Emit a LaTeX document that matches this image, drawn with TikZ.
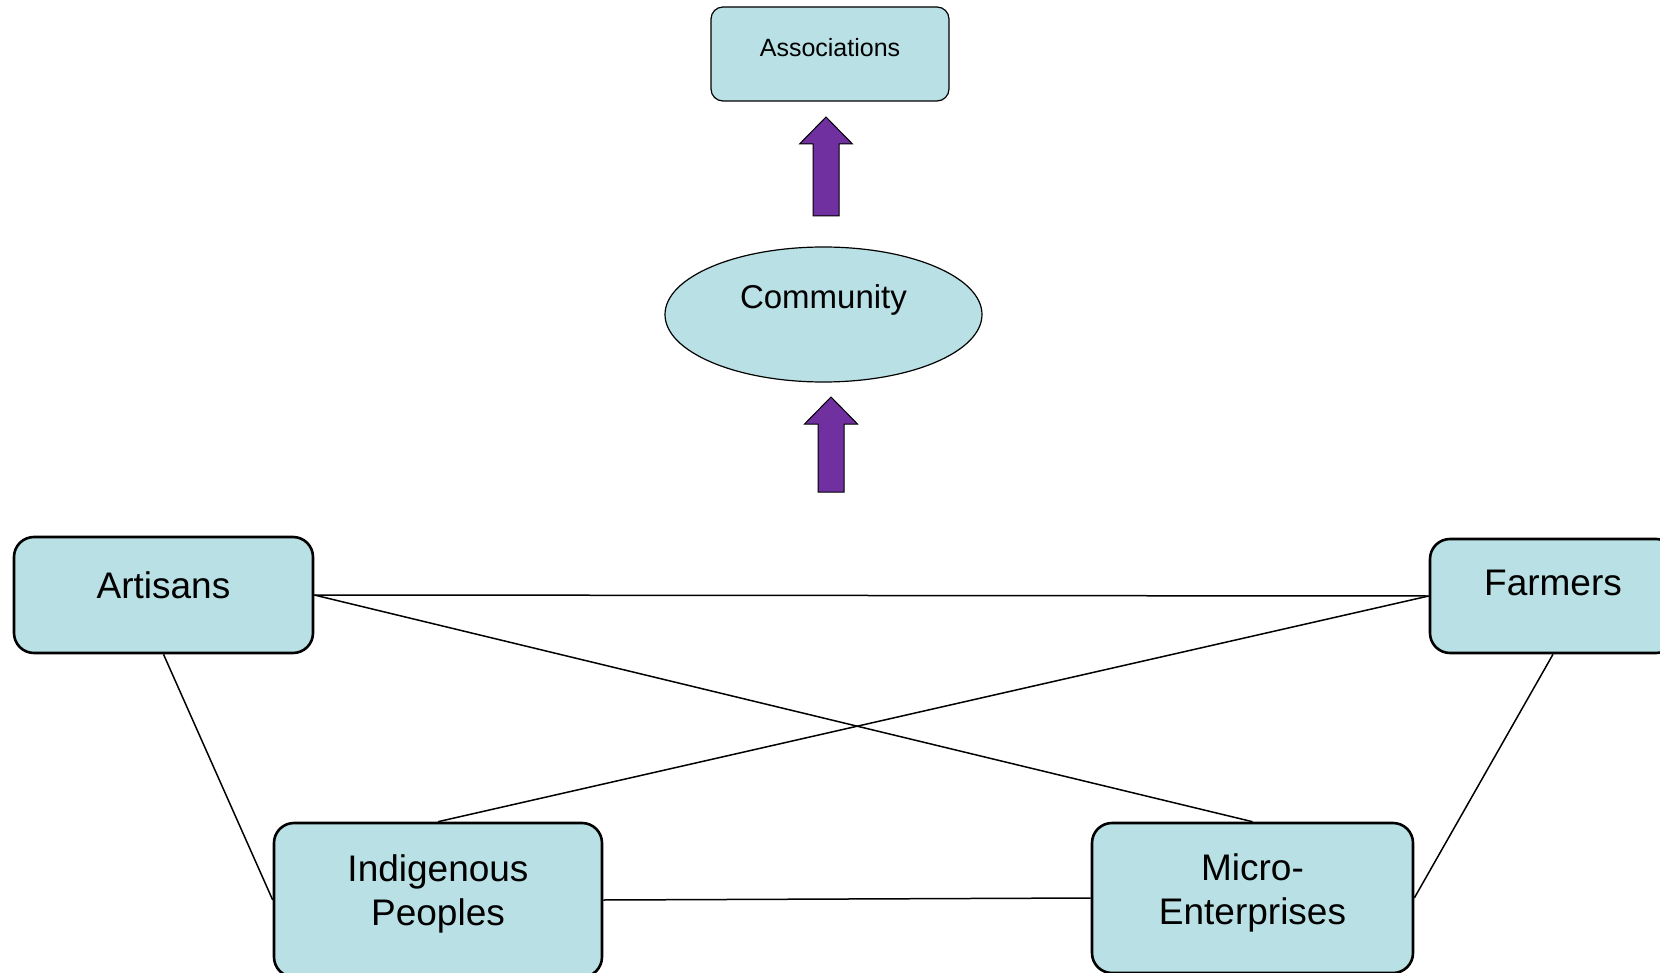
\documentclass[tikz,border=0pt]{standalone}
\usepackage{fontspec}
\setmainfont{Liberation Sans}
\usetikzlibrary{shapes.geometric}

\definecolor{boxfill}{RGB}{185,224,228}
\definecolor{arrowfill}{RGB}{112,48,160}

\begin{document}
\begin{tikzpicture}[x=0.5pt, y=-0.5pt,
		boxnode/.style={rectangle, rounded corners=10pt, draw=black, fill=boxfill, line width=1.3pt, inner sep=0pt, align=center, font=\fontsize{18.5}{22}\selectfont},
		smallbox/.style={rectangle, rounded corners=6pt, draw=black, fill=boxfill, line width=0.6pt, inner sep=0pt, font=\fontsize{12.5}{15}\selectfont},
		ovalnode/.style={ellipse, draw=black, fill=boxfill, line width=0.6pt, inner sep=0pt, font=\fontsize{16.5}{20}\selectfont},
		link/.style={line width=0.75pt},
	]

	\clip (0,0) rectangle (1660,973);

	%Nodes
	\node[smallbox, minimum width=119pt, text height=25pt, text depth=22pt]		(assoc)	at (830,54)		{Associations};
	\node[ovalnode, minimum width=158.5pt, minimum height=67.5pt, text height=10pt, text depth=16.5pt]	(comm)	at (823.5,314.5)	{Community};
	\node[boxnode, minimum width=149.5pt, text height=30.5pt, text depth=27.5pt]	(art)	at (163.5,595)	{Artisans};
	\node[boxnode, minimum width=123pt, text height=28pt, text depth=29pt]		(farm)	at (1553,596)	{Farmers};
	\node[boxnode, minimum width=164pt, text height=51pt, text depth=26pt]		(indig)	at (438,900)	{Indigenous\\Peoples};
	\node[boxnode, minimum width=160.5pt, text height=50.5pt, text depth=24.5pt]	(micro)	at (1252.5,898)	{Micro-\\Enterprises};

	%Arrows
	\foreach \tx/\ty/\by in {826/117/216, 831/397/492}
		\draw[fill=arrowfill, line width=0.5pt]
			(\tx-13,\by) -- (\tx-13,\ty+27) -- (\tx-26.5,\ty+27) -- (\tx,\ty)
			-- (\tx+26.5,\ty+27) -- (\tx+13,\ty+27) -- (\tx+13,\by) -- cycle;

	%Lines
	\draw[link]	(art.east) -- (farm.west);
	\draw[link]	(art.east) -- (micro.north);
	\draw[link]	(farm.west) -- (indig.north);
	\draw[link]	(art.south) -- (indig.west);
	\draw[link]	(farm.south) -- (micro.east);
	\draw[link]	(indig.east) -- (micro.west);

\end{tikzpicture}
\end{document}
